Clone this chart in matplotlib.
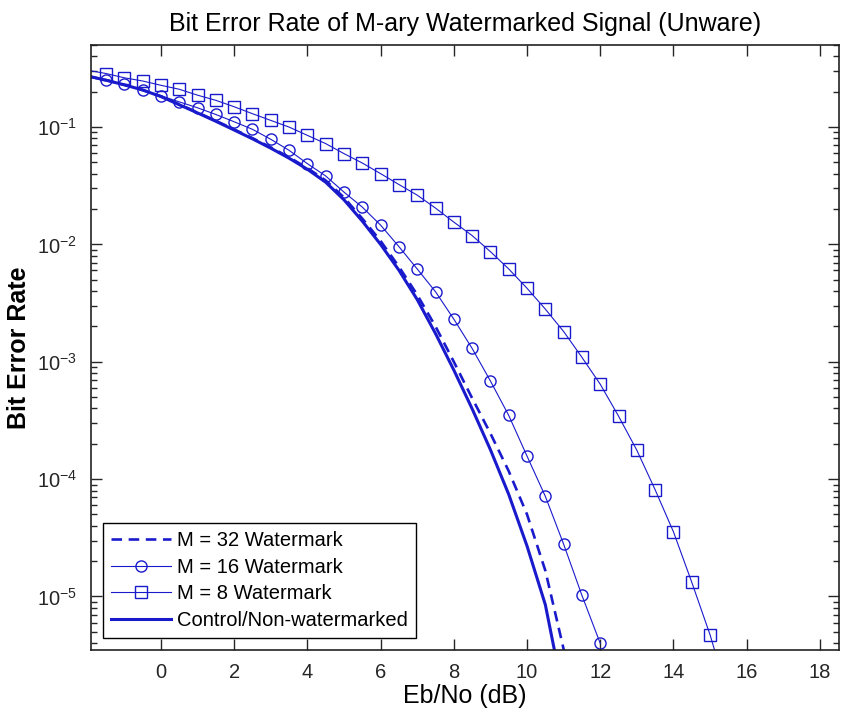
import numpy as np
import matplotlib
matplotlib.use("Agg")
import matplotlib.pyplot as plt
from matplotlib.ticker import LogLocator, NullFormatter

plt.rcParams['font.family'] = ['Liberation Sans', 'DejaVu Sans']
plt.rcParams['mathtext.fontset'] = 'custom'
plt.rcParams['mathtext.rm'] = 'Liberation Sans'

# Eb/No grid (dB), 0.5 dB steps
ebno = np.arange(-2.0, 15.51, 0.5)

# bit error rates read per series
ber_control = [0.272, 0.251, 0.229, 0.207, 0.182, 0.155, 0.132, 0.112, 0.0944,
               0.0794, 0.0661, 0.0543, 0.0437, 0.0339, 0.024, 0.0158, 0.01,
               0.00603, 0.00339, 0.00174, 8.5e-4, 3.98e-4, 1.78e-4, 7.41e-5,
               2.69e-5, 8.5e-6, 1.41e-6]
ber_m32 = [0.272, 0.251, 0.229, 0.207, 0.183, 0.156, 0.133, 0.113, 0.0955,
           0.0805, 0.0672, 0.0553, 0.0447, 0.0351, 0.0251, 0.0166, 0.0107,
           0.00646, 0.00372, 0.002, 0.001, 4.9e-4, 2.45e-4, 1.17e-4, 5.0e-5,
           1.66e-5, 3.55e-6, 5.0e-7]
ber_m16 = [0.27, 0.251, 0.231, 0.206, 0.185, 0.164, 0.146, 0.128, 0.111,
           0.0957, 0.0787, 0.0634, 0.0488, 0.0383, 0.0279, 0.0208, 0.0146,
           0.00958, 0.00618, 0.00395, 0.00231, 0.0013, 6.86e-4, 3.49e-4,
           1.57e-4, 7.13e-5, 2.79e-5, 1.02e-5, 3.98e-6]
ber_m8 = [0.305, 0.286, 0.263, 0.247, 0.227, 0.21, 0.187, 0.169, 0.149, 0.13,
          0.114, 0.1, 0.085, 0.0723, 0.0594, 0.0494, 0.0401, 0.0324, 0.0263,
          0.0204, 0.0155, 0.0119, 0.00868, 0.00618, 0.00423, 0.00281, 0.00181,
          0.00109, 6.43e-4, 3.44e-4, 1.76e-4, 8.1e-5, 3.55e-5, 1.32e-5, 4.7e-6,
          1.4e-6]

x_ticks = [0, 2, 4, 6, 8, 10, 12, 14, 16, 18]
blue = '#1a1acd'

fig = plt.figure(figsize=(8.41, 7.15), dpi=100)
ax = fig.add_axes([0.1082, 0.0909, 0.8894, 0.8461])

ax.semilogy(ebno[:len(ber_m32)], ber_m32, '--', color=blue, lw=1.9,
            dashes=(4, 2.5), label='M = 32 Watermark')
ax.semilogy(ebno[:len(ber_m16)], ber_m16, '-o', color=blue, lw=0.8, ms=8,
            mfc='none', mec=blue, mew=1.0, markevery=slice(1, None),
            label='M = 16 Watermark')
ax.semilogy(ebno[:len(ber_m8)], ber_m8, '-s', color=blue, lw=0.8, ms=8,
            mfc='none', mec=blue, mew=1.0, markevery=slice(1, None),
            label='M = 8 Watermark')
ax.semilogy(ebno[:len(ber_control)], ber_control, '-', color=blue, lw=2.2,
            label='Control/Non-watermarked')

ax.set_xlim(-1.91, 18.52)
ax.set_ylim(3.5e-6, 0.5)
ax.set_xticks(x_ticks)
ax.yaxis.set_major_locator(LogLocator(base=10, numticks=10))
ax.yaxis.set_minor_locator(LogLocator(base=10, subs=np.arange(2, 10), numticks=20))
ax.yaxis.set_minor_formatter(NullFormatter())

ax.tick_params(which='both', direction='in', top=True, right=True,
               labelsize=14.5, colors='#262626', width=1.0)
ax.tick_params(which='major', length=8)
ax.tick_params(which='minor', length=4)
ax.tick_params(axis='x', pad=9)
ax.tick_params(axis='y', pad=10)
for s in ax.spines.values():
    s.set_linewidth(1.2)
    s.set_color('#222222')

ax.set_title('Bit Error Rate of M-ary Watermarked Signal (Unware)',
             fontsize=18, pad=10)
ax.set_xlabel('Eb/No (dB)', fontsize=18, labelpad=2)
ax.set_ylabel('Bit Error Rate', fontsize=18, fontweight='bold', labelpad=4)

leg = ax.legend(loc='lower left', bbox_to_anchor=(0.016, 0.0198),
                borderaxespad=0, fontsize=14.5, handlelength=3.0,
                handletextpad=0.3, labelspacing=0.38, borderpad=0.4,
                fancybox=False, edgecolor='black', framealpha=1)
leg.get_frame().set_linewidth(1.0)

fig.savefig('out.png', dpi=100)
